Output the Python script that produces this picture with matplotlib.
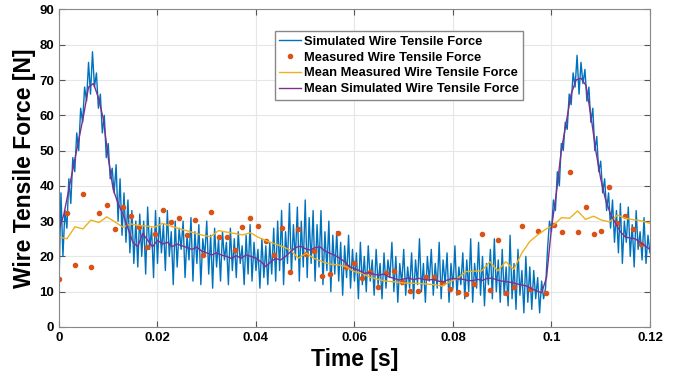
import matplotlib
matplotlib.use('Agg')
import matplotlib.pyplot as plt
import numpy as np

plt.rcParams['font.family'] = ['Liberation Sans', 'DejaVu Sans']

# simulated tensile force, read off every 0.4 ms
sim_dt = 0.0004
sim_force = [
    12, 38, 20, 33, 28, 42, 35, 48, 44, 55,
    50, 62, 58, 68, 64, 75, 66, 78, 68, 72,
    62, 66, 55, 60, 48, 52, 42, 45, 38, 46,
    30, 42, 26, 38, 24, 36, 21, 33, 18, 30,
    17, 32, 20, 30, 15, 34, 22, 28, 14, 33,
    18, 31, 21, 29, 16, 33, 20, 27, 12, 30,
    17, 28, 22, 30, 14, 26, 19, 31, 13, 27,
    18, 29, 12, 25, 20, 30, 15, 26, 11, 28,
    17, 25, 13, 27, 19, 24, 12, 28, 16, 25,
    14, 27, 18, 23, 12, 26, 15, 29, 13, 24,
    16, 22, 11, 25, 14, 23, 12, 24, 15, 28,
    13, 30, 16, 33, 12, 27, 18, 35, 15, 29,
    19, 34, 13, 30, 17, 36, 14, 31, 18, 33,
    13, 29, 17, 33, 12, 27, 16, 30, 10, 26,
    15, 27, 13, 24, 9, 23, 14, 26, 11, 22,
    13, 21, 8, 24, 12, 20, 10, 23, 13, 19,
    9, 22, 12, 18, 8, 21, 11, 19, 14, 24,
    10, 20, 7, 18, 12, 22, 9, 17, 11, 21,
    8, 19, 12, 25, 10, 18, 7, 20, 13, 22,
    9, 18, 11, 24, 8, 19, 12, 21, 7, 18,
    11, 23, 9, 17, 12, 21, 8, 19, 10, 25,
    7, 18, 11, 24, 9, 20, 6, 18, 12, 22,
    8, 25, 10, 19, 7, 22, 9, 17, 6, 26,
    8, 18, 5, 22, 9, 16, 4, 20, 7, 17,
    5, 16, 8, 14, 4, 13, 8, 11, 22, 30,
    27, 36, 33, 44, 40, 52, 50, 58, 56, 66,
    63, 72, 68, 77, 66, 75, 69, 73, 64, 68,
    58, 62, 50, 54, 44, 47, 38, 42, 33, 38,
    28, 36, 24, 33, 21, 35, 18, 30, 24, 34,
    20, 29, 17, 33, 22, 27, 19, 31, 18, 26, 21,
]

# measured samples, every 1.62 ms
meas_dt = 0.00162
meas_force = [
    13.5, 32.4, 17.6, 37.7, 17.1, 32.4, 34.6, 27.7, 34.0, 31.4,
    28.2, 22.6, 26.4, 33.1, 29.8, 30.8, 26.0, 30.2, 20.3, 32.6,
    25.4, 25.6, 21.8, 28.3, 31.0, 28.7, 24.4, 20.3, 28.0, 15.6,
    27.7, 20.7, 21.6, 14.4, 15.0, 26.5, 17.1, 18.0, 13.8, 15.5,
    11.2, 15.2, 16.0, 12.8, 10.3, 10.3, 14.1, 14.1, 12.4, 10.7,
    10.0, 9.3, 12.2, 26.3, 10.5, 24.6, 9.5, 11.2, 28.7, 10.9,
    27.3, 9.5, 28.9, 27.0, 43.8, 27.0, 34.1, 26.3, 27.3, 39.6,
    29.6, 31.4, 27.7, 23.5,
]
mean_meas = [
    25.5, 25.0, 28.4, 27.8, 30.3, 29.6, 31.2, 29.8, 28.3, 29.2,
    28.8, 28.6, 28.3, 29.4, 28.6, 27.9, 27.3, 26.6, 26.0, 25.6,
    27.3, 26.9, 26.5, 26.1, 26.7, 25.4, 24.4, 23.6, 22.8, 21.8,
    19.5, 20.9, 19.4, 18.5, 17.8, 17.6, 17.1, 15.7, 15.2, 14.1,
    13.5, 13.0, 12.8, 12.5, 12.4, 12.3, 12.2, 12.0, 11.6, 12.8,
    13.8, 15.7, 15.8, 15.9, 18.5, 15.9, 18.5, 16.3, 20.9, 24.2,
    26.1, 27.7, 28.9, 31.0, 30.8, 32.9, 30.5, 31.4, 30.3, 29.8,
    31.7, 30.8, 30.4, 30.1, 29.4,
]

# mean of simulated force, every 1 ms
mean_dt = 0.001
mean_sim = [
    27.5, 32, 39, 46, 53, 60, 68, 69, 65, 59,
    48, 39, 35, 32, 28, 24, 22.8, 26.5, 24.6, 22.7,
    24.6, 23.5, 24, 22.8, 23.5, 23, 22.5, 22, 22.6, 21.5,
    21, 20.4, 21, 20.4, 20, 19.4, 20.2, 19.5, 20.4, 20,
    19.5, 18.5, 17.1, 18.5, 19.4, 19, 20, 21.3, 22.5, 22.9,
    22.2, 21.8, 22.5, 22.7, 21.5, 20.9, 20.3, 19.5, 18.5, 17.1,
    16.5, 16, 15.2, 15.4, 14.9, 14.7, 15, 14.2, 13.8, 13.3,
    13.6, 13.9, 13.4, 13.8, 13.5, 13.3, 13.5, 13, 12.8, 13.4,
    13.8, 13.6, 13.5, 13.2, 13.1, 13.5, 13.2, 13.8, 13.8, 13.3,
    13, 12.8, 12.6, 12.2, 11.9, 11.6, 10.8, 10.2, 9.7, 14,
    28, 38, 50, 58, 66, 70, 70.5, 68.5, 60, 50,
    42, 36, 32, 29.4, 27, 25.5, 25.2, 25, 24, 23, 22,
]

t_sim = np.arange(len(sim_force)) * sim_dt
t_meas = np.arange(len(meas_force)) * meas_dt
t_mmeas = np.arange(len(mean_meas)) * meas_dt
t_msim = np.arange(len(mean_sim)) * mean_dt

fig = plt.figure(figsize=(6.82, 3.78), dpi=100)
ax = fig.add_axes([0.0865, 0.135, 0.8665, 0.84])

ax.plot(t_sim, sim_force, color='#0072BD', lw=1.0, label='Simulated Wire Tensile Force')
ax.plot(t_meas, meas_force, 'o', color='#D95319', ms=3.0, label='Measured Wire Tensile Force')
ax.plot(t_mmeas, mean_meas, color='#EDB120', lw=1.0, label='Mean Measured Wire Tensile Force')
ax.plot(t_msim, mean_sim, color='#7E2F8E', lw=1.0, label='Mean Simulated Wire Tensile Force')

ax.set_xlim(0, 0.12)
ax.set_ylim(0, 90)
ax.set_xticks([0, 0.02, 0.04, 0.06, 0.08, 0.1, 0.12])
ax.set_xticklabels(['0', '0.02', '0.04', '0.06', '0.08', '0.1', '0.12'])
ax.set_yticks(range(0, 91, 10))
ax.grid(True, color='#e6e6e6', lw=0.8)
ax.set_axisbelow(True)
ax.tick_params(direction='in', top=True, right=True, length=4, color='#555555', labelsize=9.5)
for lab in ax.get_xticklabels() + ax.get_yticklabels():
    lab.set_fontweight('bold')
for s in ax.spines.values():
    s.set_color('#888888')
    s.set_linewidth(0.8)

ax.set_xlabel('Time [s]', fontsize=16.5, fontweight='bold', labelpad=3)
ax.set_ylabel('Wire Tensile Force [N]', fontsize=16.5, fontweight='bold', labelpad=2)

leg = ax.legend(loc='upper left', bbox_to_anchor=(0.365, 0.932), borderaxespad=0,
                prop={'size': 9.3, 'weight': 'bold'}, handlelength=1.7, handletextpad=0.2,
                labelspacing=0.3, fancybox=False, framealpha=1, edgecolor='#888888',
                borderpad=0.35)

fig.savefig('out.png', dpi=100)
